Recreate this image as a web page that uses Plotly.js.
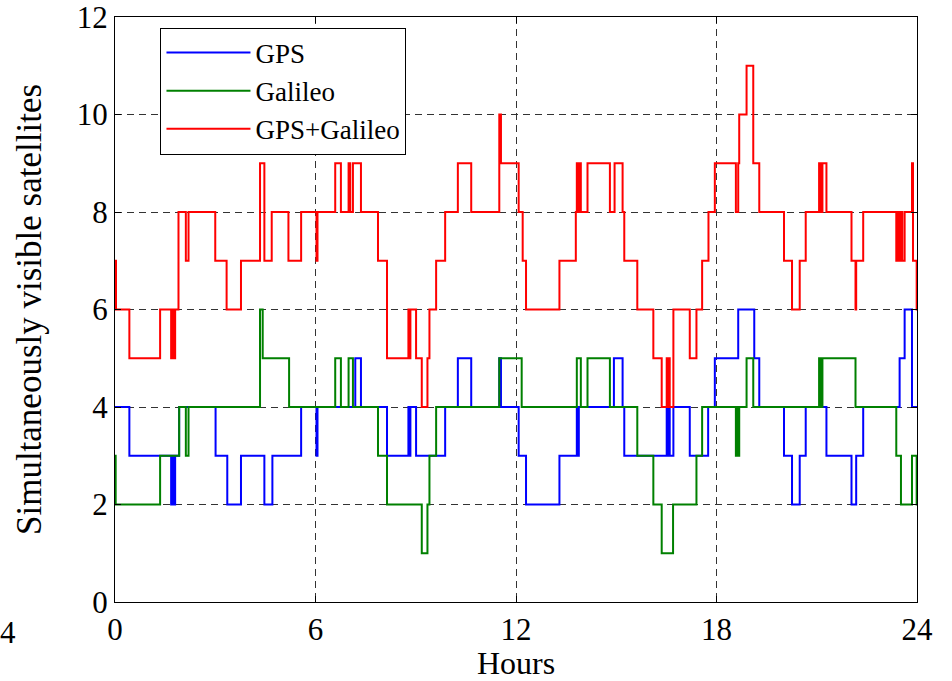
<!DOCTYPE html>
<html>
<head>
<meta charset="utf-8">
<script src="https://cdn.plot.ly/plotly-3.0.1.min.js"></script>
<style>
html,body{margin:0;padding:0;background:#fff;}
#chart{width:952px;height:681px;}
</style>
</head>
<body>
<div id="chart"></div>
<script>
// Time (hours) at which each visibility count starts (step "hv")
const hoursGPS = [0,0.43,1.68,1.71,1.74,1.80,1.92,3.01,3.36,3.77,4.47,4.71,5.57,6.03,6.06,7.19,7.36,8.14,8.78,8.81,8.84,9.01,9.88,10.26,10.66,11.50,11.55,12.08,12.30,13.30,13.82,13.85,13.88,14.93,15.19,15.24,16.51,16.54,16.57,16.60,16.71,17.20,17.75,17.95,18.65,19.13,19.28,20.02,20.26,20.49,20.67,21.29,22.04,22.18,22.39,23.48,23.63,23.85,24];
const satsGPS  = [4,3,2,3,2,3,4,3,2,3,2,3,4,3,4,5,4,3,4,3,4,3,4,5,4,5,4,3,2,3,4,3,4,5,4,3,4,3,4,3,4,3,4,5,6,5,4,3,2,3,4,3,2,3,4,5,6,4,4];

const hoursGalileo = [0,0.02,1.35,1.92,2.12,2.20,4.34,4.42,5.21,6.59,6.76,6.99,7.12,7.87,8.14,9.18,9.35,9.41,9.61,11.50,12.17,13.82,13.94,14.14,14.81,15.63,16.11,16.36,16.70,17.40,17.57,18.58,18.62,18.65,18.68,18.90,19.10,21.07,21.12,21.17,22.16,23.38,23.52,23.85,23.99,24];
const satsGalileo  = [3,2,3,4,3,4,6,5,4,5,4,5,4,3,2,1,2,3,4,5,4,5,4,5,4,3,2,1,2,3,4,3,4,3,4,5,4,5,4,5,4,3,2,3,2,2];

const hoursCombined = [0,0.03,0.43,1.35,1.68,1.71,1.74,1.80,1.90,2.12,2.20,3.00,3.34,3.77,4.34,4.47,4.69,5.19,5.57,6.03,6.06,6.59,6.76,6.99,7.04,7.12,7.36,7.87,8.14,8.78,8.81,8.84,9.01,9.18,9.35,9.41,9.61,9.88,10.26,10.66,11.50,11.55,12.08,12.20,12.30,13.30,13.79,13.82,13.85,13.88,13.94,14.14,14.81,14.95,15.19,15.24,15.63,16.11,16.36,16.51,16.54,16.57,16.60,16.71,17.20,17.40,17.57,17.76,17.95,18.58,18.65,18.68,18.90,19.10,19.28,20.02,20.26,20.49,20.67,21.07,21.12,21.17,21.29,22.04,22.16,22.18,22.39,23.38,23.43,23.46,23.52,23.56,23.63,23.85,23.88,23.99,24];
const satsCombined  = [7,6,5,6,5,6,5,6,8,7,8,7,6,7,9,7,8,7,8,7,8,9,8,9,8,9,8,7,5,6,5,6,5,4,5,6,7,8,9,8,10,9,8,7,6,7,8,9,8,9,8,9,8,9,8,7,6,5,4,5,4,5,4,6,5,6,7,8,9,8,9,10,11,9,8,7,6,7,8,9,8,9,8,7,6,7,8,7,8,7,8,7,8,9,7,6,6];

const seriesNames = ['GPS','Galileo','GPS+Galileo'];
const seriesColors = ['#0000ff','#008000','#ff0000'];
const xTickVals = [0,6,12,18,24];
const yTickVals = [0,2,4,6,8,10,12];
const xTitle = 'Hours';
const yTitle = 'Simultaneously visible satellites';

const FONT = 'Liberation Serif, Times New Roman, serif';

const xs = [hoursGPS, hoursGalileo, hoursCombined];
const ys = [satsGPS, satsGalileo, satsCombined];
const traces = xs.map((x, i) => ({
  x: x, y: ys[i], name: seriesNames[i], type: 'scatter', mode: 'lines',
  line: {shape: 'hv', color: seriesColors[i], width: 2},
  hoverinfo: 'x+y+name'
}));

const axisCommon = {
  showline: true, linecolor: '#000', linewidth: 1, mirror: 'ticks',
  ticks: 'inside', ticklen: 6, tickcolor: '#000', tickwidth: 1,
  showgrid: true, gridcolor: '#333', gridwidth: 1, griddash: '7px,5px',
  zeroline: false, ticklabeloverflow: 'allow',
  tickfont: {family: FONT, size: 31, color: '#000'}
};

const layout = {
  width: 952, height: 681,
  margin: {l: 115, r: 35, t: 17, b: 79, pad: 0},
  paper_bgcolor: '#fff', plot_bgcolor: '#fff',
  font: {family: FONT, color: '#000'},
  showlegend: true,
  legend: {
    x: 0.0567, y: 0.982, xanchor: 'left', yanchor: 'top',
    bgcolor: '#fff', bordercolor: '#000', borderwidth: 1,
    font: {family: FONT, size: 27, color: '#000'},
    itemwidth: 84, tracegroupgap: 0
  },
  xaxis: Object.assign({}, axisCommon, {
    range: [0, 24], tickmode: 'array', tickvals: xTickVals,
    ticktext: xTickVals.map(String),
    title: {text: xTitle, font: {family: FONT, size: 32, color: '#000'}, standoff: 2}
  }),
  yaxis: Object.assign({}, axisCommon, {
    range: [0, 12], tickmode: 'array', tickvals: yTickVals,
    ticktext: yTickVals.map(String),
    title: {text: yTitle, font: {family: FONT, size: 35, color: '#000'}, standoff: 24}
  }),
  annotations: [{
    xref: 'paper', yref: 'paper', x: -0.1334, y: -0.052,
    xanchor: 'center', yanchor: 'middle', showarrow: false,
    text: '4', font: {family: FONT, size: 31, color: '#000'}
  }]
};

Plotly.newPlot('chart', traces, layout, {displayModeBar: false});
</script>
</body>
</html>
